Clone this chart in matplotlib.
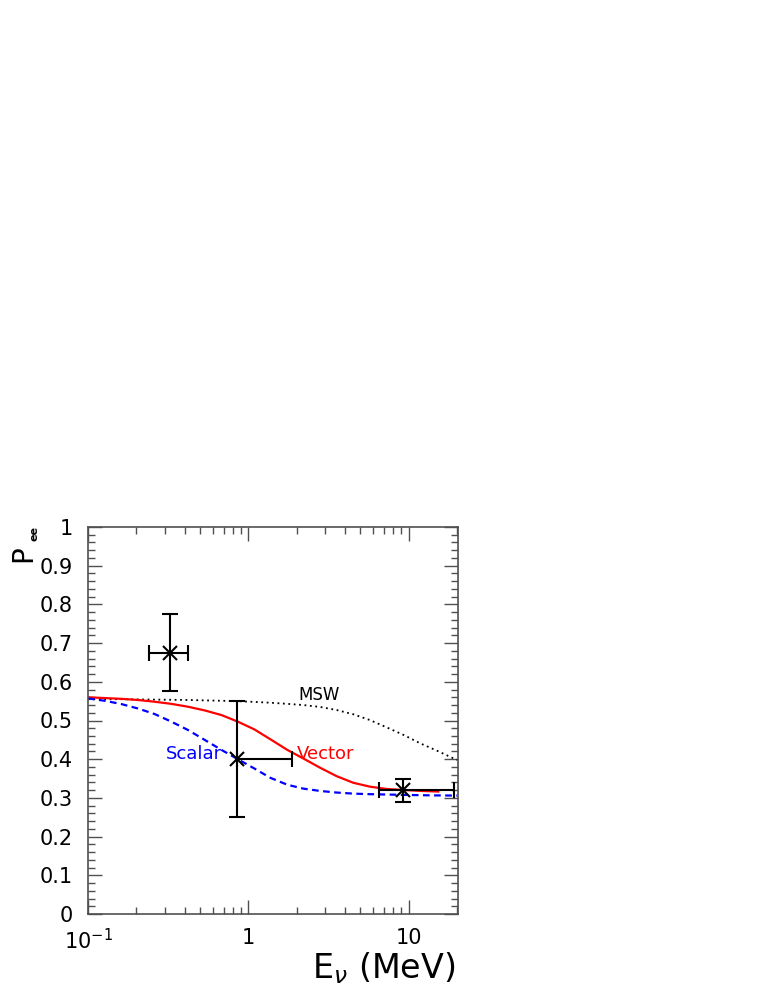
import numpy as np
import matplotlib
matplotlib.use('Agg')
import matplotlib.pyplot as plt
from matplotlib.ticker import LogLocator, MultipleLocator, FixedLocator, FixedFormatter

# model curves
e_msw = [0.1, 0.16, 0.26, 0.42, 0.68, 0.86, 1.09, 1.37, 1.75, 2.2, 2.8, 3.56,
         4.52, 5.74, 7.31, 9.26, 11.8, 15.0, 20.0]
p_msw = [0.555, 0.555, 0.554, 0.553, 0.551, 0.550, 0.548, 0.546, 0.543, 0.540,
         0.535, 0.527, 0.516, 0.501, 0.482, 0.463, 0.441, 0.422, 0.398]

e_vec = [0.1, 0.127, 0.161, 0.205, 0.26, 0.331, 0.42, 0.535, 0.68, 0.86, 1.09,
         1.366, 1.75, 2.2, 2.8, 3.56, 4.52, 5.74, 7.31, 9.26, 12.0, 15.3]
p_vec = [0.560, 0.558, 0.556, 0.553, 0.5485, 0.543, 0.5356, 0.526, 0.514, 0.497,
         0.477, 0.452, 0.424, 0.402, 0.378, 0.356, 0.339, 0.329, 0.323, 0.3205,
         0.318, 0.3164]

e_sca = [0.1, 0.127, 0.161, 0.205, 0.26, 0.331, 0.42, 0.535, 0.68, 0.86, 1.09,
         1.37, 1.75, 2.2, 2.8, 3.56, 4.52, 5.74, 9.26, 14.0, 20.0]
p_sca = [0.557, 0.551, 0.5426, 0.531, 0.5168, 0.497, 0.4755, 0.4497, 0.424, 0.400,
         0.376, 0.352, 0.334, 0.324, 0.318, 0.3138, 0.311, 0.3096, 0.3078, 0.3065,
         0.306]

# data points
e_pt = [0.323, 0.85, 9.2]
p_pt = [0.675, 0.40, 0.32]
e_lo = [0.240, 0.85, 6.57]
e_hi = [0.4225, 1.87, 19.3]
p_lo = [0.575, 0.25, 0.29]
p_hi = [0.775, 0.55, 0.35]

ylabels = ['0', '0.1', '0.2', '0.3', '0.4', '0.5', '0.6', '0.7', '0.8', '0.9', '1']

fig = plt.figure(figsize=(7.61, 9.85), dpi=100)
ax = fig.add_axes([88/761, 71/985, 370/761, 387/985])

ax.plot(e_msw, p_msw, color='black', ls=(0, (1, 2)), lw=1.3)
ax.plot(e_vec, p_vec, color='red', lw=1.6)
ax.plot(e_sca, p_sca, color='blue', ls=(0, (3, 2)), lw=1.6)

xerr = [np.array(e_pt) - np.array(e_lo), np.array(e_hi) - np.array(e_pt)]
yerr = [np.array(p_pt) - np.array(p_lo), np.array(p_hi) - np.array(p_pt)]
ax.errorbar(e_pt, p_pt, xerr=xerr, yerr=yerr, fmt='x', color='black',
            ms=10, mew=1.5, elinewidth=1.5, capsize=6, capthick=1.5)

ax.text(2.05, 0.566, 'MSW', color='black', fontsize=12, va='center', ha='left')
ax.text(0.306, 0.4136, 'Scalar', color='blue', fontsize=13, va='center', ha='left')
ax.text(2.0, 0.4136, 'Vector', color='red', fontsize=13, va='center', ha='left')

ax.set_xscale('log')
ax.set_xlim(0.1, 20.3)
ax.set_ylim(0, 1)

ax.xaxis.set_major_locator(FixedLocator([0.1, 1, 10]))
ax.xaxis.set_major_formatter(FixedFormatter([r'$10^{-1}$', '1', '10']))
ax.xaxis.set_minor_locator(LogLocator(base=10, subs=np.arange(2, 10)))
ax.xaxis.set_minor_formatter(plt.NullFormatter())
ax.yaxis.set_major_locator(MultipleLocator(0.1))
ax.yaxis.set_minor_locator(MultipleLocator(0.02))
ax.set_yticks(np.arange(0, 1.01, 0.1))
ax.set_yticklabels(ylabels)

ax.tick_params(which='both', direction='in', top=True, right=True, color='#505050',
               labelsize=15, width=1)
ax.tick_params(which='major', length=10)
ax.tick_params(which='minor', length=5)
ax.tick_params(axis='y', pad=11)
ax.tick_params(axis='x', pad=10)
for s in ax.spines.values():
    s.set_color('#505050')
    s.set_linewidth(1.2)

fig.text(455/761, 1 - 978/985, r'E$_{\nu}$ (MeV)', fontsize=24, ha='right', va='baseline')
fig.text(23/761, 1 - 545/985, 'P', fontsize=20, rotation=90, ha='center', va='top')
fig.text(34/761, 1 - 526/985, 'ee', fontsize=8, fontweight='bold', rotation=90,
         ha='center', va='top')

fig.savefig('out.png', dpi=100)
